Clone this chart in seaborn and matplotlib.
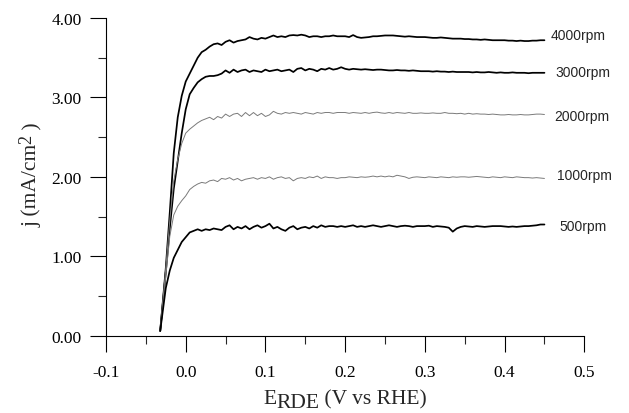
import numpy as np
import pandas as pd
import matplotlib
matplotlib.use("Agg")
import matplotlib.pyplot as plt
from matplotlib.ticker import MultipleLocator, FormatStrFormatter
import seaborn as sns

# ---------------- data ----------------
E = [-0.032, -0.025, -0.020, -0.015, -0.010, -0.005,
     0.000, 0.005, 0.010, 0.015, 0.020, 0.025, 0.030, 0.035, 0.040, 0.045,
     0.050, 0.055, 0.060, 0.065, 0.070, 0.075, 0.080, 0.085, 0.090, 0.095,
     0.100, 0.105, 0.110, 0.115, 0.120, 0.125, 0.130, 0.135, 0.140, 0.145,
     0.150, 0.155, 0.160, 0.165, 0.170, 0.175, 0.180, 0.185, 0.190, 0.195,
     0.200, 0.205, 0.210, 0.215, 0.220, 0.225, 0.230, 0.235, 0.240, 0.245,
     0.250, 0.255, 0.260, 0.265, 0.270, 0.275, 0.280, 0.285, 0.290, 0.295,
     0.300, 0.305, 0.310, 0.315, 0.320, 0.325, 0.330, 0.335, 0.340, 0.345,
     0.350, 0.355, 0.360, 0.365, 0.370, 0.375, 0.380, 0.385, 0.390, 0.395,
     0.400, 0.405, 0.410, 0.415, 0.420, 0.425, 0.430, 0.435, 0.440, 0.445,
     0.450]

j_4000 = [0.06, 0.85, 1.55, 2.30, 2.75, 3.02,
          3.20, 3.30, 3.40, 3.50, 3.57, 3.60, 3.64, 3.67, 3.68, 3.66,
          3.70, 3.72, 3.69, 3.71, 3.72, 3.73, 3.76, 3.74, 3.73, 3.75,
          3.74, 3.76, 3.78, 3.76, 3.77, 3.76, 3.78, 3.785, 3.78, 3.79,
          3.78, 3.76, 3.77, 3.77, 3.76, 3.77, 3.77, 3.78, 3.77, 3.77,
          3.77, 3.76, 3.785, 3.76, 3.75, 3.755, 3.76, 3.77, 3.77, 3.775,
          3.78, 3.78, 3.78, 3.775, 3.77, 3.765, 3.77, 3.765, 3.76, 3.76,
          3.76, 3.755, 3.75, 3.75, 3.755, 3.75, 3.745, 3.74, 3.74, 3.74,
          3.735, 3.735, 3.73, 3.73, 3.725, 3.73, 3.725, 3.72, 3.72, 3.72,
          3.72, 3.715, 3.715, 3.71, 3.715, 3.71, 3.71, 3.715, 3.715, 3.72,
          3.72]

j_3000 = [0.06, 0.80, 1.35, 1.85, 2.20, 2.55,
          2.85, 3.04, 3.12, 3.19, 3.23, 3.26, 3.27, 3.27, 3.28, 3.30,
          3.34, 3.31, 3.35, 3.32, 3.34, 3.35, 3.32, 3.34, 3.33, 3.32,
          3.35, 3.33, 3.34, 3.35, 3.33, 3.34, 3.35, 3.32, 3.36, 3.37,
          3.34, 3.36, 3.35, 3.33, 3.36, 3.35, 3.37, 3.35, 3.36, 3.38,
          3.36, 3.35, 3.36, 3.355, 3.35, 3.355, 3.35, 3.345, 3.35, 3.35,
          3.345, 3.34, 3.34, 3.345, 3.34, 3.34, 3.335, 3.34, 3.335, 3.33,
          3.33, 3.33, 3.325, 3.33, 3.325, 3.325, 3.32, 3.325, 3.32, 3.32,
          3.32, 3.32, 3.315, 3.32, 3.315, 3.315, 3.32, 3.315, 3.31, 3.315,
          3.31, 3.31, 3.315, 3.31, 3.31, 3.31, 3.305, 3.31, 3.31, 3.31,
          3.31]

j_2000 = [0.06, 0.85, 1.45, 1.95, 2.22, 2.42,
          2.55, 2.60, 2.64, 2.68, 2.71, 2.73, 2.75, 2.72, 2.76, 2.74,
          2.79, 2.76, 2.79, 2.80, 2.76, 2.81, 2.77, 2.81, 2.77, 2.80,
          2.76, 2.78, 2.825, 2.80, 2.79, 2.81, 2.80, 2.81, 2.80, 2.79,
          2.81, 2.80, 2.79, 2.81, 2.80, 2.81, 2.81, 2.80, 2.81, 2.81,
          2.81, 2.80, 2.81, 2.805, 2.80, 2.81, 2.80, 2.81, 2.815, 2.805,
          2.80, 2.81, 2.80, 2.81, 2.805, 2.80, 2.81, 2.80, 2.80, 2.805,
          2.80, 2.80, 2.805, 2.80, 2.80, 2.81, 2.80, 2.80, 2.795, 2.80,
          2.79, 2.80, 2.79, 2.795, 2.79, 2.79, 2.785, 2.79, 2.785, 2.78,
          2.78, 2.785, 2.78, 2.78, 2.785, 2.78, 2.78, 2.785, 2.79, 2.79,
          2.785]

j_1000 = [0.06, 0.75, 1.25, 1.52, 1.63, 1.70,
          1.76, 1.84, 1.88, 1.91, 1.93, 1.92, 1.95, 1.96, 1.94, 1.98,
          1.97, 1.99, 1.96, 1.98, 1.95, 1.97, 1.98, 1.99, 1.97, 1.99,
          1.98, 2.00, 1.97, 1.99, 2.00, 1.98, 1.99, 1.95, 1.98, 1.99,
          1.98, 2.00, 1.99, 2.01, 1.98, 2.00, 1.99, 1.99, 1.98, 1.99,
          1.99, 2.00, 1.995, 1.99, 2.00, 1.995, 2.00, 2.01, 2.00, 2.01,
          2.00, 2.01, 2.00, 2.02, 2.01, 2.00, 1.98, 1.995, 2.00, 1.995,
          1.99, 2.00, 1.995, 1.99, 2.00, 1.995, 1.99, 2.00, 1.995, 2.00,
          2.00, 1.995, 2.00, 2.005, 2.00, 1.995, 1.99, 2.00, 1.995, 1.99,
          2.00, 1.995, 1.99, 2.00, 1.995, 1.99, 1.99, 1.985, 1.99, 1.985,
          1.98]

j_500 = [0.06, 0.60, 0.82, 0.98, 1.08, 1.18,
         1.24, 1.30, 1.32, 1.34, 1.32, 1.34, 1.33, 1.35, 1.34, 1.33,
         1.37, 1.39, 1.34, 1.37, 1.35, 1.38, 1.34, 1.37, 1.39, 1.36,
         1.38, 1.41, 1.35, 1.37, 1.34, 1.32, 1.36, 1.38, 1.34, 1.36,
         1.37, 1.35, 1.38, 1.36, 1.39, 1.37, 1.38, 1.38, 1.37, 1.38,
         1.37, 1.38, 1.39, 1.37, 1.38, 1.37, 1.38, 1.39, 1.38, 1.37,
         1.38, 1.39, 1.38, 1.37, 1.38, 1.385, 1.38, 1.37, 1.38, 1.38,
         1.38, 1.385, 1.37, 1.38, 1.375, 1.37, 1.36, 1.31, 1.35, 1.37,
         1.38, 1.375, 1.37, 1.38, 1.375, 1.37, 1.375, 1.38, 1.38, 1.38,
         1.375, 1.37, 1.375, 1.37, 1.375, 1.38, 1.38, 1.385, 1.39, 1.40,
         1.40]

series_names = ["4000rpm", "3000rpm", "2000rpm", "1000rpm", "500rpm"]
series_vals = [j_4000, j_3000, j_2000, j_1000, j_500]
label_E = [0.458, 0.464, 0.462, 0.466, 0.469]
label_j = [3.78, 3.32, 2.77, 2.02, 1.38]

x_ticks = [-0.1, 0.0, 0.1, 0.2, 0.3, 0.4, 0.5]
y_ticks = [0.0, 1.0, 2.0, 3.0, 4.0]

# ---------------- style ----------------
sns.set_style("ticks")
plt.rcParams["font.family"] = ["Liberation Serif", "DejaVu Serif"]
plt.rcParams["axes.unicode_minus"] = False

styles = {
    "4000rpm": dict(color="black", lw=1.25),
    "3000rpm": dict(color="black", lw=1.25),
    "2000rpm": dict(color="#7a7a7a", lw=0.7),
    "1000rpm": dict(color="#7a7a7a", lw=0.7),
    "500rpm": dict(color="black", lw=1.25),
}

fig = plt.figure(figsize=(6.29, 4.14), dpi=100)
ax = fig.add_axes([106 / 629, 1 - 336.7 / 414, (584.3 - 106) / 629, (336.7 - 19) / 414])

for name, vals in zip(series_names, series_vals):
    df = pd.DataFrame({"E": E, "j": vals})
    sns.lineplot(data=df, x="E", y="j", ax=ax, estimator=None, sort=False,
                 color=styles[name]["color"], linewidth=styles[name]["lw"])

for name, xe, yj in zip(series_names, label_E, label_j):
    ax.text(xe, yj, name, fontsize=10, family=["Liberation Sans", "DejaVu Sans"],
            ha="left", va="center", clip_on=False)

ax.set_xlim(-0.1, 0.5)
ax.set_ylim(0.0, 4.0)
ax.set_xticks(x_ticks)
ax.set_yticks(y_ticks)
ax.xaxis.set_major_formatter(FormatStrFormatter("%.1f"))
ax.yaxis.set_major_formatter(FormatStrFormatter("%.2f"))
ax.xaxis.set_minor_locator(MultipleLocator(0.05))
ax.yaxis.set_minor_locator(MultipleLocator(0.5))
ax.tick_params(axis="both", which="major", direction="out", length=11.5, width=0.8,
               labelsize=12.5, colors="black")
ax.tick_params(axis="both", which="minor", direction="out", length=5.5, width=0.8)
ax.tick_params(axis="x", which="major", pad=9)
ax.tick_params(axis="y", which="major", pad=6)
for s in ["top", "right"]:
    ax.spines[s].set_visible(False)
for s in ["left", "bottom"]:
    ax.spines[s].set_linewidth(0.8)
    ax.spines[s].set_color("black")
ax.set_xlabel("")
ax.set_ylabel("")

fs = 15.5
renderer = fig.canvas.get_renderer()

# y label built from rotated pieces, superscript nearly full size
ypieces = [("j (mA/cm", fs, 0.0), ("2", fs * 0.85, -6.0), (" )", fs, 0.0)]
ytexts = []
for s, size, dx in ypieces:
    t = fig.text(0, 0, s, fontsize=size, rotation=90, ha="left", va="baseline",
                 rotation_mode="anchor")
    ytexts.append((t, dx))
heights = [t.get_window_extent(renderer).height for t, _ in ytexts]
total_h = sum(heights)
y0 = (414 - 175) - total_h / 2  # pixels from bottom
base_x = 37
for (t, dx), h in zip(ytexts, heights):
    t.set_position(((base_x + dx) / 629, y0 / 414))
    y0 += h

# x label built from pieces (E with same-size lowered subscript)
parts = [("E", 0.0), ("RDE", -4.0), (" (V vs RHE)", 0.0)]
texts = []
for s, dy in parts:
    t = fig.text(0, 0, s, fontsize=fs, ha="left", va="baseline")
    texts.append((t, dy))
widths = [t.get_window_extent(renderer).width for t, _ in texts]
total = sum(widths)
x0 = 345 - total / 2
base = 404
for (t, dy), w in zip(texts, widths):
    t.set_position((x0 / 629, (414 - base + dy) / 414))
    x0 += w

fig.savefig("out.png", dpi=100)
